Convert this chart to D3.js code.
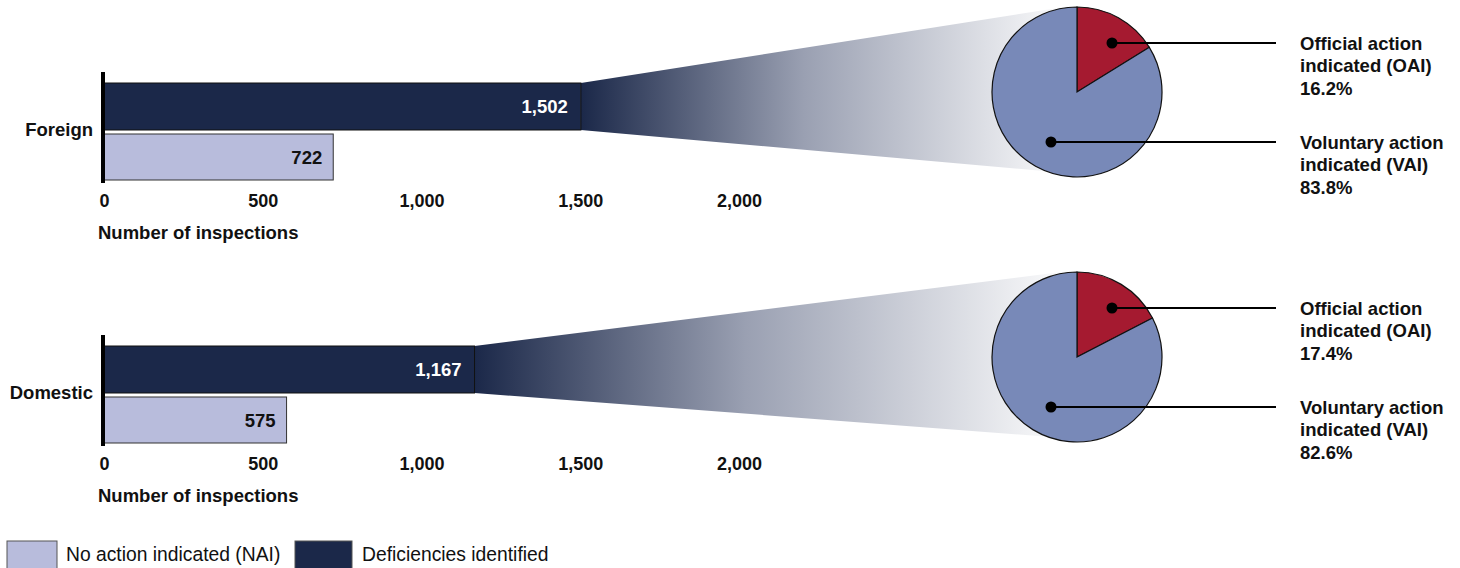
<!DOCTYPE html>
<html><head><meta charset="utf-8">
<script src="https://cdn.jsdelivr.net/npm/d3@7"></script>
<style>body{margin:0;background:#fff}svg{display:block}text{font-family:"Liberation Sans",Arial,sans-serif}</style>
</head><body>
<script>
const categories = ["Foreign", "Domestic"];
const deficiencies = [1502, 1167];
const noAction = [722, 575];
const oaiPct = [16.2, 17.4];
const vaiPct = [83.8, 82.6];
const ticks = [0, 500, 1000, 1500, 2000];
const legendLabels = ["No action indicated (NAI)", "Deficiencies identified"];

const W = 1460, H = 568;
const C = {dark:"#1b2849", light:"#b8bcdc", pieBlue:"#7889b8", red:"#a51a30"};
const svg = d3.select("body").append("svg").attr("width", W).attr("height", H);
const defs = svg.append("defs");
const fmt = d3.format(",");
const x = d3.scaleLinear().domain([0, 2000]).range([104, 739]);

const panels = [
  {top: 83, cy: 92},
  {top: 346, cy: 357}
];
const r = 85, pcx = 1077;

categories.forEach((cat, i) => {
  const p = panels[i];
  const y0 = p.top, bh = 47, gap = 4;
  const y1 = y0 + bh + gap;
  const g = svg.append("g");

  // gradient funnel
  const gid = "grad" + i;
  const gr = defs.append("linearGradient").attr("id", gid)
    .attr("gradientUnits", "userSpaceOnUse")
    .attr("x1", x(deficiencies[i])).attr("x2", pcx).attr("y1", 0).attr("y2", 0);
  gr.append("stop").attr("offset", 0).attr("stop-color", C.dark);
  gr.append("stop").attr("offset", 0.45).attr("stop-color", "#9aa0b2");
  gr.append("stop").attr("offset", 1).attr("stop-color", "#ffffff");
  const xe = x(deficiencies[i]);
  g.append("path")
    .attr("d", `M${xe},${y0}L${pcx},${p.cy - r - 2}L${pcx},${p.cy + r - 3}L${xe},${y0 + bh}Z`)
    .attr("fill", `url(#${gid})`);

  // bars
  g.append("rect").attr("x", x(0)).attr("y", y0).attr("width", x(deficiencies[i]) - x(0)).attr("height", bh)
    .attr("fill", C.dark).attr("stroke", "#111").attr("stroke-width", 1);
  g.append("rect").attr("x", x(0)).attr("y", y1).attr("width", x(noAction[i]) - x(0)).attr("height", bh - 1)
    .attr("fill", C.light).attr("stroke", "#333").attr("stroke-width", 1);

  g.append("text").attr("x", x(deficiencies[i]) - 13).attr("y", y0 + bh / 2 + 6.5)
    .attr("text-anchor", "end").attr("font-size", 18.5).attr("font-weight", "bold").attr("fill", "#fff")
    .text(fmt(deficiencies[i]));
  g.append("text").attr("x", x(noAction[i]) - 11).attr("y", y1 + bh / 2 + 6.5)
    .attr("text-anchor", "end").attr("font-size", 18.5).attr("font-weight", "bold").attr("fill", "#111")
    .text(fmt(noAction[i]));

  // axis line (vertical)
  g.append("line").attr("x1", 103).attr("x2", 103).attr("y1", y0 - 11).attr("y2", y1 + bh + 2)
    .attr("stroke", "#000").attr("stroke-width", 4);

  // category label
  g.append("text").attr("x", 93).attr("y", y0 + bh + 6).attr("text-anchor", "end")
    .attr("font-size", 18.5).attr("font-weight", "bold").attr("fill", "#111").text(cat);

  // x axis ticks
  const axG = g.append("g").attr("transform", `translate(0,${y1 + bh + 12})`)
    .call(d3.axisBottom(x).tickValues(ticks).tickFormat(fmt).tickSize(0).tickPadding(0));
  axG.select(".domain").remove();
  axG.selectAll("text").attr("font-size", 18).attr("font-weight", "bold").attr("fill", "#111")
    .attr("font-family", "Liberation Sans, Arial, sans-serif").attr("dy", "0.8em");
  g.append("text").attr("x", 98).attr("y", y1 + bh + 58).attr("font-size", 18.5).attr("font-weight", "bold")
    .attr("fill", "#111").text("Number of inspections");

  // pie
  const pie = d3.pie().sort(null).value(d => d.v);
  const arcs = pie([{k: "oai", v: oaiPct[i]}, {k: "vai", v: vaiPct[i]}]);
  const arc = d3.arc().innerRadius(0).outerRadius(r);
  const pg = g.append("g").attr("transform", `translate(${pcx},${p.cy})`);
  pg.selectAll("path").data(arcs).join("path").attr("d", arc)
    .attr("fill", d => d.data.k === "oai" ? C.red : C.pieBlue)
    .attr("stroke", "#111").attr("stroke-width", 1.2);

  // callouts
  const callouts = [
    {dx: 35, dy: -49, lines: ["Official action", "indicated (OAI)", oaiPct[i].toFixed(1) + "%"]},
    {dx: -26, dy: 50, lines: ["Voluntary action", "indicated (VAI)", vaiPct[i].toFixed(1) + "%"]}
  ];
  callouts.forEach(c => {
    const cy = p.cy + c.dy;
    g.append("line").attr("x1", pcx + c.dx).attr("x2", 1276).attr("y1", cy).attr("y2", cy)
      .attr("stroke", "#000").attr("stroke-width", 2);
    g.append("circle").attr("cx", pcx + c.dx).attr("cy", cy).attr("r", 5.5).attr("fill", "#000");
    const t = g.append("text").attr("x", 1300).attr("y", cy + 6.5).attr("font-size", 18.5)
      .attr("font-weight", "bold").attr("fill", "#111");
    c.lines.forEach((l, j) => t.append("tspan").attr("x", 1300).attr("dy", j === 0 ? 0 : 22.5).text(l));
  });
});

// legend
const lg = svg.append("g");
const legendItems = [
  {x: 7, w: 50, fill: C.light, tx: 66, label: legendLabels[0]},
  {x: 295, w: 57, fill: C.dark, tx: 362, label: legendLabels[1]}
];
legendItems.forEach(d => {
  lg.append("rect").attr("x", d.x).attr("y", 541).attr("width", d.w).attr("height", 30)
    .attr("fill", d.fill).attr("stroke", "#555").attr("stroke-width", 1);
  lg.append("text").attr("x", d.tx).attr("y", 561).attr("font-size", 19.3).attr("fill", "#111").text(d.label);
});
</script>
</body></html>
